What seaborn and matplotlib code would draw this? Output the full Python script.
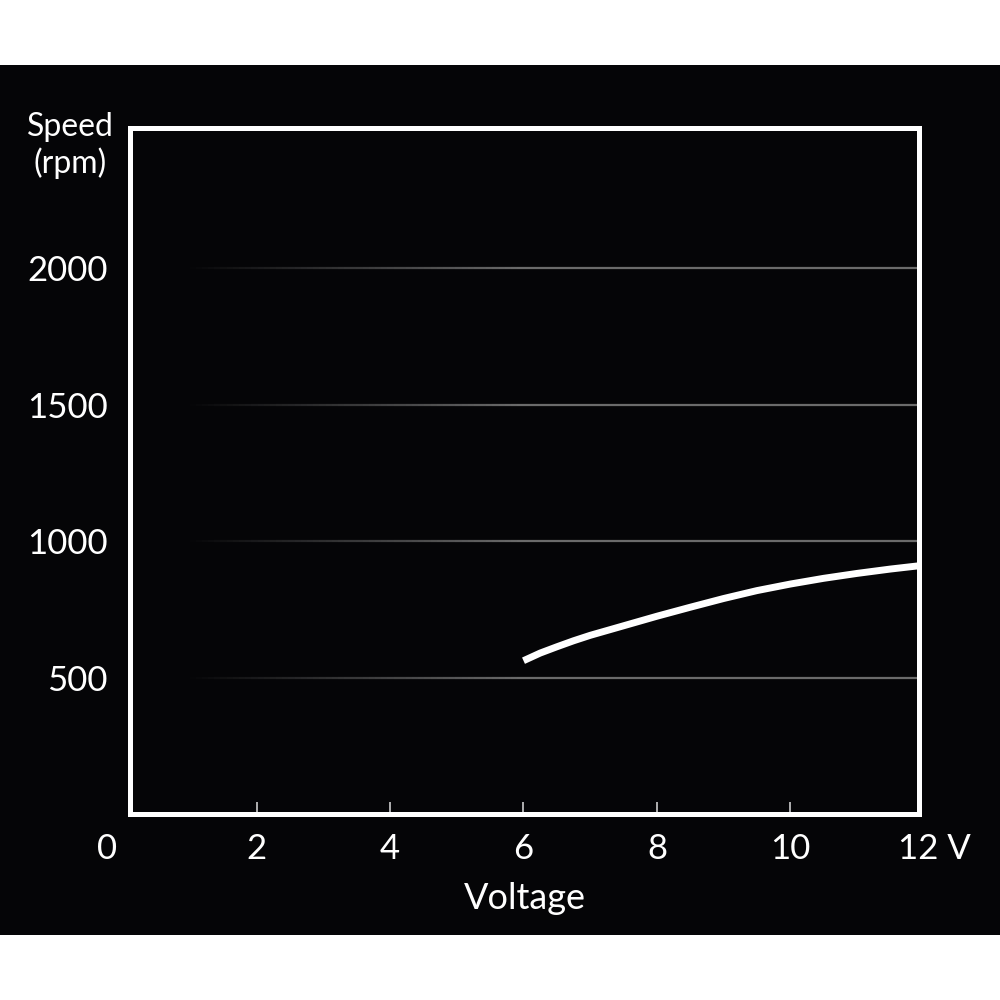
import numpy as np
import matplotlib
matplotlib.use("Agg")
import matplotlib.pyplot as plt
import seaborn as sns
from matplotlib.collections import LineCollection
from matplotlib.patches import Rectangle

# motor speed vs supply voltage
voltage = [6.0, 6.25, 6.5, 6.75, 7.0, 7.5, 8.0, 8.5, 9.0, 9.5, 10.0, 10.5, 11.0, 11.5, 12.0]
speed_rpm = [562, 590, 613, 635, 655, 690, 725, 758, 790, 819, 843, 864, 882, 898, 912]

x_ticks = [2, 4, 6, 8, 10]
y_ticks = [500, 1000, 1500, 2000]
x_label = "Voltage"
y_label = "Speed\n(rpm)"

sns.set_style("dark")
plt.rcParams["font.family"] = ["Lato", "DejaVu Sans"]

fig = plt.figure(figsize=(10, 10), dpi=100, facecolor="white")
fig.patches.append(Rectangle((0, 0.065), 1, 0.87, transform=fig.transFigure,
                             facecolor="#050507", edgecolor="none", zorder=-10))

ax = fig.add_axes([0.13, 0.186, 0.789, 0.686])
ax.set_facecolor("#050507")

# gridlines fading in from the left
x0, x1 = 0.1, 11.93
for yv in y_ticks:
    xs = np.linspace(0.9, x1, 120)
    segs = [[(xs[i], yv), (xs[i + 1], yv)] for i in range(len(xs) - 1)]
    alphas = np.clip((xs[:-1] - 0.9) / 5.0, 0, 1)
    cols = [(0.42, 0.42, 0.42, a) for a in alphas]
    ax.add_collection(LineCollection(segs, colors=cols, linewidths=1.6, zorder=1))

sns.lineplot(x=voltage, y=speed_rpm, ax=ax, color="white", linewidth=5,
             solid_capstyle="butt", zorder=3)

ax.set_xlim(x0, x1)
ax.set_ylim(0, 2515)
ax.grid(False)

for s in ax.spines.values():
    s.set_visible(True)
    s.set_color("white")
    s.set_linewidth(3.6)

ax.set_xticks(x_ticks)
ax.set_xticklabels([str(v) for v in x_ticks])
ax.set_yticks(y_ticks)
ax.set_yticklabels([str(v) for v in y_ticks])
ax.tick_params(axis="x", bottom=True, direction="in", length=9, width=1.2,
               color="#cccccc", labelcolor="white", labelsize=25, pad=14)
ax.tick_params(axis="y", left=False, length=0, labelcolor="white",
               labelsize=25, pad=16)

ax.text(-0.25, -0.027, "0", transform=ax.get_xaxis_transform(), ha="center",
        va="top", color="white", fontsize=25, clip_on=False)
ax.text(11.62, -0.027, "12 V", transform=ax.get_xaxis_transform(), ha="left",
        va="top", color="white", fontsize=25, clip_on=False)
ax.text(-0.076, 0.975, y_label, transform=ax.transAxes, ha="center", va="center",
        color="white", fontsize=23, linespacing=1.2, clip_on=False)
ax.set_xlabel(x_label, color="white", fontsize=26, labelpad=12)
ax.set_ylabel("")

fig.savefig("out.png", dpi=100, facecolor=fig.get_facecolor())
